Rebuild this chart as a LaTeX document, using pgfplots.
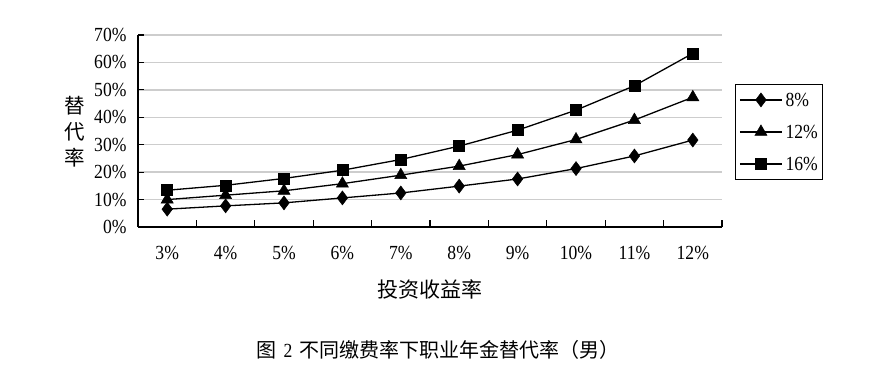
\documentclass[border=0pt]{standalone}
\usepackage{fontspec}
\setmainfont[FakeStretch=0.88]{Liberation Serif}
\newfontfamily\cjk{Noto Sans CJK SC}
\usepackage{pgfplots}
\pgfplotsset{compat=1.18}
\definecolor{gridgray}{RGB}{205,205,205}
\begin{document}
\begin{tikzpicture}
\path (0,0) rectangle (891bp,379bp);
\begin{axis}[
  at={(138bp,152bp)}, anchor=south west,
  scale only axis, width=584bp, height=192bp,
  xmin=-0.5, xmax=9.5, ymin=0, ymax=70,
  axis x line*=bottom, axis y line*=left,
  axis line style={black, line width=1.2bp, -},
  xtick={0,...,9},
  xticklabels={3\%,4\%,5\%,6\%,7\%,8\%,9\%,10\%,11\%,12\%},
  major x tick style={draw=none},
  minor xtick={0.5,1.5,...,9.5},
  minor x tick style={black, line width=1.2bp},
  minor tick length=7bp,
  xtick pos=bottom, ytick pos=left,
  tick align=inside,
  ytick={0,10,...,70},
  yticklabel={\pgfmathprintnumber{\tick}\%},
  major y tick style={black, line width=1.2bp},
  major tick length=6bp,
  ymajorgrids, grid style={gridgray, line width=1.4bp},
  /pgf/number format/assume math mode=true,
  tick label style={font=\fontsize{20bp}{22bp}\selectfont},
  yticklabel style={xshift=-8bp},
  xticklabel style={yshift=-16bp},
  legend style={at={(rel axis cs:1.022,0.745)}, anchor=north west,
    draw=black, line width=0.9bp, font=\fontsize{20bp}{22bp}\selectfont,
    row sep=15bp, inner xsep=4bp, inner ysep=7bp,
    nodes={inner sep=1bp, text height=14bp, text depth=1bp},
    /tikz/every odd column/.append style={column sep=2bp}},
  legend cell align=left,
  legend image code/.code={%
    \draw[mark repeat=2, mark phase=2, #1] plot coordinates {(0bp,0bp) (21bp,0bp) (42bp,0bp)};},
  every axis plot/.append style={black, line width=1.3bp, mark options={solid, fill=black, line width=0.5bp}},
  clip=false,
]
\addplot[mark=diamond*, mark size=7bp] coordinates {
(0,6.5) (1,7.7) (2,8.8) (3,10.6) (4,12.4) (5,14.9) (6,17.5) (7,21.3) (8,25.9) (9,31.7)};
\addlegendentry{8\%}
\addplot[mark=triangle*, mark size=7bp] coordinates {
(0,10.0) (1,11.6) (2,13.2) (3,15.8) (4,18.9) (5,22.2) (6,26.4) (7,31.9) (8,39.0) (9,47.3)};
\addlegendentry{12\%}
\addplot[mark=square*, mark size=5.5bp] coordinates {
(0,13.4) (1,15.2) (2,17.7) (3,20.7) (4,24.6) (5,29.5) (6,35.3) (7,42.6) (8,51.5) (9,63.3)};
\addlegendentry{16\%}
\end{axis}
\node[font=\cjk\fontsize{20.5bp}{22bp}\selectfont, align=center, inner sep=0pt] at (75bp,247bp) {替\\[4bp]代\\[4bp]率};
\node[font=\cjk\fontsize{21bp}{22bp}\selectfont, inner sep=0pt] at (430bp,90bp) {投资收益率};
\node[font=\cjk\fontsize{20bp}{22bp}\selectfont, inner sep=0pt] at (438bp,29bp) {图\hspace{7bp}{\rmfamily 2}\hspace{7bp}不同缴费率下职业年金替代率（男）};
\end{tikzpicture}
\end{document}
